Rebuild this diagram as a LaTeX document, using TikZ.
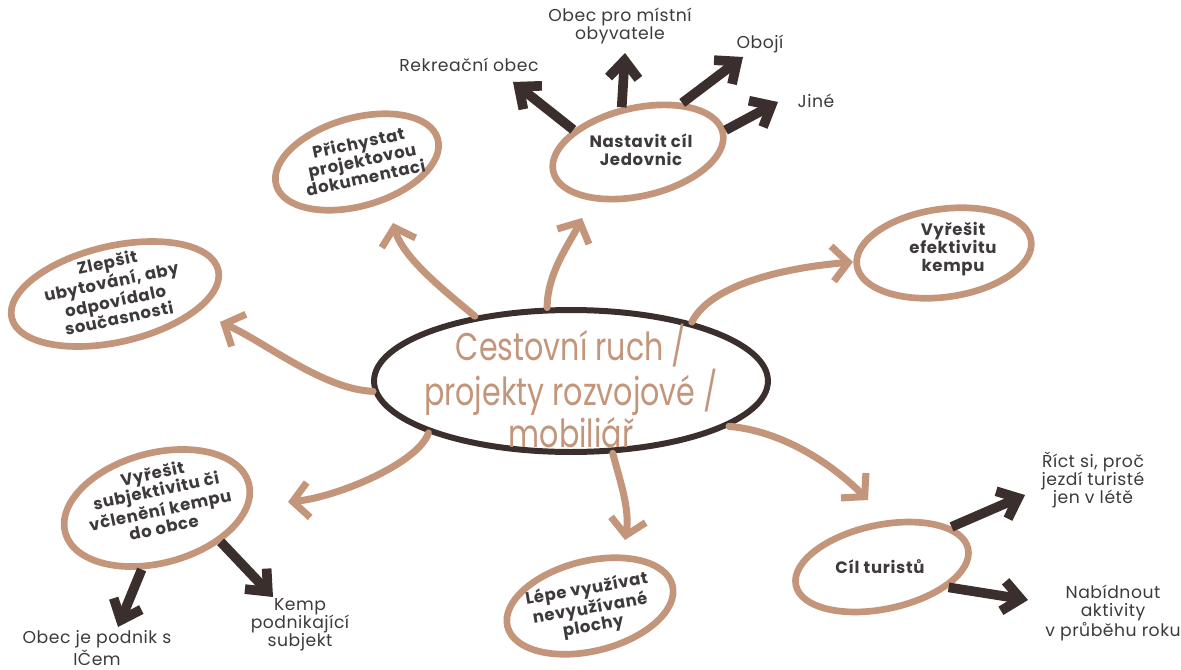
\documentclass[tikz,border=0pt]{standalone}
\usepackage{fontspec}
\setmainfont{Poppins}
\usetikzlibrary{shapes.geometric,arrows.meta}
\definecolor{tanc}{HTML}{C3967B}
\definecolor{dbrown}{HTML}{3A2F2C}
\definecolor{txt}{HTML}{3E3A3A}
\begin{document}
\begin{tikzpicture}[x=0.02cm,y=-0.02cm,
  tanell/.style={ellipse, draw=tanc, line width=3.8pt, inner sep=0pt},
  etext/.style={font=\fontsize{9.4}{10.1}\selectfont\bfseries\addfontfeature{LetterSpace=4}, text=txt, align=center, inner sep=0pt},
  lbl/.style={font=\fontsize{9.8}{10.3}\selectfont\addfontfeature{LetterSpace=3}, text=txt, align=center, inner sep=0pt},
  tarrow/.style={draw=tanc, line width=4pt, line cap=round, -{Straight Barb[length=9pt,width=20pt]}},
  darrow/.style={draw=dbrown, line width=5.5pt, -{Straight Barb[length=10pt,width=17pt]}}]
\useasboundingbox[fill=white] (0,0) rectangle (1181,670);

% central ellipse
\node[ellipse, draw=dbrown, line width=3.4pt, minimum width=7.88cm, minimum height=2.84cm, inner sep=0pt] (c) at (571,381) {};
\node[font=\fontsize{22}{19}\selectfont, text=tanc, align=center, inner sep=0pt, xscale=0.78] (ct0) at (571,386) {Cestovní ruch /\\projekty rozvojové /\\mobiliář};

% sub ellipses
\node[tanell, rotate=13, minimum width=3.48cm, minimum height=1.76cm] (nj) at (638,152) {};
\node[tanell, rotate=16, minimum width=3.36cm, minimum height=1.76cm] (pr) at (357,162) {};
\node[tanell, rotate=13, minimum width=4.24cm, minimum height=1.92cm] (zl) at (115,294) {};
\node[tanell, rotate=8, minimum width=3.52cm, minimum height=1.76cm] (ef) at (944,253) {};
\node[tanell, rotate=12, minimum width=3.52cm, minimum height=1.68cm] (ct) at (882,567) {};
\node[tanell, rotate=14, minimum width=3.4cm, minimum height=1.8cm] (lp) at (590,606) {};
\node[tanell, rotate=15, minimum width=3.8cm, minimum height=2.2cm] (sb) at (157,508) {};

% texts in ellipses
\node[etext] (njt) at (641,150) {Nastavit cíl\\Jedovnic};
\node[etext, rotate=12] (prt) at (362,160) {Přichystat\\projektovou\\dokumentaci};
\node[etext, rotate=12] (zlt) at (113,290) {Zlepšit\\ubytování, aby\\odpovídalo\\současnosti};
\node[etext] (eft) at (953,249) {Vyřešit\\efektivitu\\kempu};
\node[etext] (ctt) at (880,567) {Cíl turistů};
\node[etext, rotate=10] (lpt) at (590,608) {Lépe využívat\\nevyužívané\\plochy};
\node[etext, rotate=12] (sbt) at (158,500) {Vyřešit\\subjektivitu či\\včlenění kempu\\do obce};

% outer labels
\node[lbl] (rk) at (469,65) {Rekreační obec};
\node[lbl] (ob) at (620,26) {Obec pro místní\\obyvatele};
\node[lbl] (bj) at (760,44) {Obojí};
\node[lbl] (jn) at (816,101) {Jiné};
\node[lbl] (rc) at (1093,480) {Říct si, proč\\jezdí turisté\\jen v létě};
\node[lbl] (nb) at (1113,613) {Nabídnout\\aktivity\\v průběhu roku};
\node[lbl] (km) at (300,625) {Kemp\\podnikající\\subjekt};
\node[lbl] (oj) at (97,648) {Obec je podnik s\\IČem};

% tips
\coordinate (zTip) at (220,322);
\coordinate (pTip) at (393,223);
\coordinate (nTip) at (582,218);
\coordinate (eTip) at (853,262);
\coordinate (tTip) at (868,500);
\coordinate (lTip) at (625,540);
\coordinate (sTip) at (288,502);

\coordinate (rkTip) at (513,82);
\coordinate (obTip) at (625,53);
\coordinate (bjTip) at (743,57);
\coordinate (jnTip) at (778,102);
\coordinate (rcTip) at (1025,495);
\coordinate (nbTip) at (1028,600);
\coordinate (ojTip) at (118,627);
\coordinate (kmTip) at (273,597);

% tan curved arrows
\draw[tarrow] (c.183) .. controls +(-50,-2) and +(45,20) .. (zTip);
\draw[tarrow] (c.146) .. controls +(-30,-25) and +(10,35) .. (pTip);
\draw[tarrow] (c.108) .. controls +(0,-35) and +(-12,25) .. (nTip);
\draw[tarrow] (c.26) .. controls +(20,-40) and +(-60,5) .. (eTip);
\draw[tarrow] (c.344) .. controls +(55,5) and +(-35,-35) .. (tTip);
\draw[tarrow] (c.300) .. controls +(8,30) and +(5,-30) .. (lTip);
\draw[tarrow] (c.200) .. controls +(-10,30) and +(50,-5) .. (sTip);

% dark arrows
\draw[darrow] (nj.148) -- (rkTip);
\draw[darrow] (nj.97) -- (obTip);
\draw[darrow] (nj.35) -- (bjTip);
\draw[darrow] (nj.1) -- (jnTip);
\draw[darrow] (ct.18) -- (rcTip);
\draw[darrow] (ct.331) -- (nbTip);
\draw[darrow] (sb.241) -- (ojTip);
\draw[darrow] (sb.317) -- (kmTip);
\end{tikzpicture}
\end{document}
